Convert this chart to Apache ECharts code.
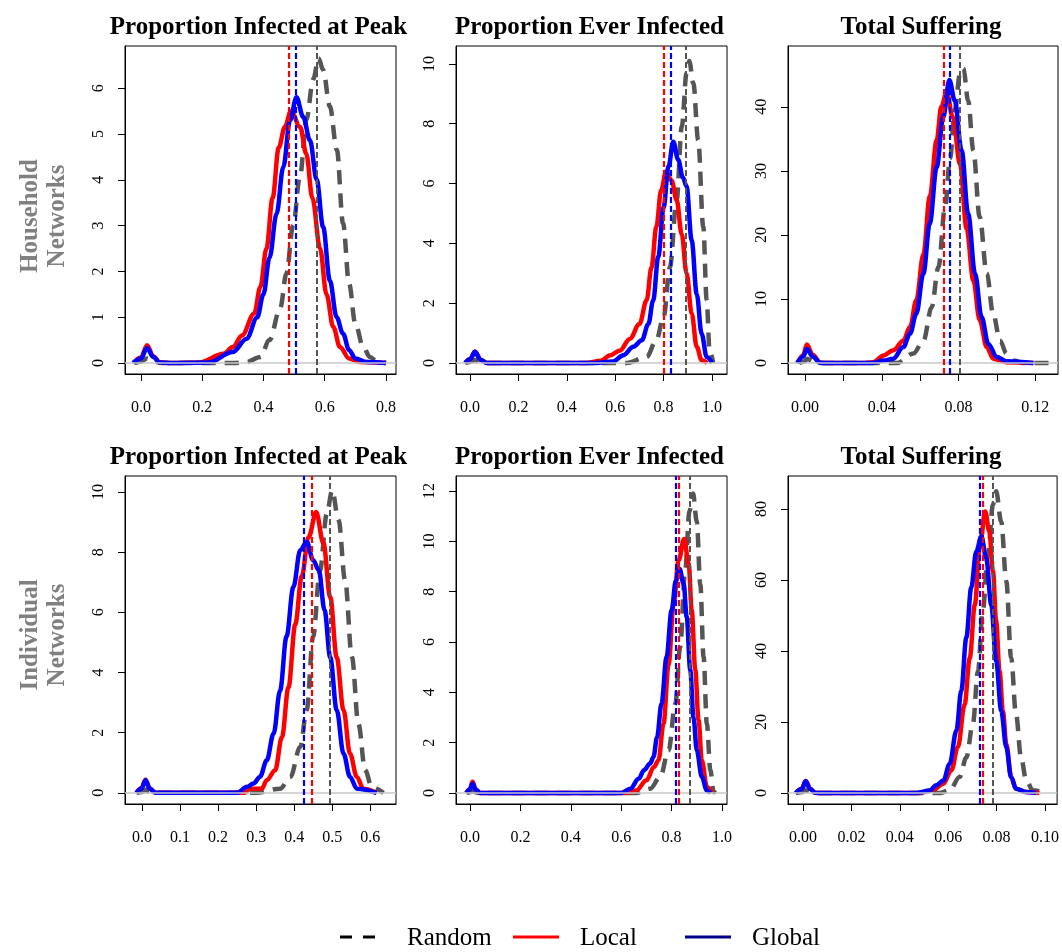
<!DOCTYPE html>
<html>
<head>
<meta charset="utf-8">
<script src="https://cdn.jsdelivr.net/npm/echarts@6/dist/echarts.min.js"></script>
<style>
html,body{margin:0;padding:0;background:#fff;}
#chart{width:1062px;height:952px;}
</style>
</head>
<body>
<div id="chart"></div>
<script>
// ---------- Titles / labels ----------
const panelTitles = ["Proportion Infected at Peak", "Proportion Ever Infected", "Total Suffering",
                     "Proportion Infected at Peak", "Proportion Ever Infected", "Total Suffering"];
const rowLabels = ["Household\nNetworks", "Individual\nNetworks"];
const legendNames = ["Random", "Local", "Global"];

// ---------- Axis ticks ----------
const xTicks1 = [0, 0.2, 0.4, 0.6, 0.8];
const xTicks2 = [0, 0.2, 0.4, 0.6, 0.8, 1.0];
const xTicks3 = [0, 0.02, 0.04, 0.06, 0.08, 0.10, 0.12];
const xLabels3 = [0, 0.04, 0.08, 0.12];
const xTicks4 = [0, 0.1, 0.2, 0.3, 0.4, 0.5, 0.6];
const xTicks5 = [0, 0.2, 0.4, 0.6, 0.8, 1.0];
const xTicks6 = [0, 0.02, 0.04, 0.06, 0.08, 0.10];
const yTicks1 = [0, 1, 2, 3, 4, 5, 6];
const yTicks2 = [0, 2, 4, 6, 8, 10];
const yTicks3 = [0, 10, 20, 30, 40];
const yTicks4 = [0, 2, 4, 6, 8, 10];
const yTicks5 = [0, 2, 4, 6, 8, 10, 12];
const yTicks6 = [0, 20, 40, 60, 80];

// ---------- Density curves (x, density) ----------
// Panel 1: Household, Proportion Infected at Peak
const hhPeakRandom = [[-0.02,0],[0.0,0.03],[0.02,0.1],[0.04,0.03],[0.07,0],[0.3,0],[0.345,0.02],[0.39,0.13],[0.42,0.5],[0.455,1.2],[0.475,1.95],[0.497,3.0],[0.52,4.1],[0.54,5.3],[0.563,6.2],[0.58,6.65],[0.595,6.4],[0.617,5.6],[0.64,4.65],[0.66,3.05],[0.68,1.73],[0.70,0.86],[0.726,0.35],[0.748,0.13],[0.77,0.04],[0.80,0]];
const hhPeakLocal = [[-0.025,0],[0.0,0.12],[0.02,0.39],[0.04,0.15],[0.062,0.01],[0.1,0],[0.19,0.01],[0.27,0.2],[0.30,0.35],[0.33,0.6],[0.37,1.08],[0.39,1.66],[0.41,2.5],[0.43,3.6],[0.45,4.7],[0.47,5.15],[0.49,5.5],[0.52,5.15],[0.54,4.57],[0.56,3.6],[0.585,2.5],[0.606,1.5],[0.628,0.79],[0.65,0.35],[0.68,0.1],[0.715,0.02],[0.80,0]];
const hhPeakGlobal = [[-0.025,0],[0.0,0.1],[0.02,0.33],[0.04,0.13],[0.062,0.01],[0.1,0],[0.22,0.01],[0.30,0.24],[0.345,0.53],[0.38,1.0],[0.40,1.5],[0.42,2.3],[0.443,3.26],[0.465,4.28],[0.487,5.3],[0.508,5.8],[0.53,5.37],[0.552,4.86],[0.574,4.0],[0.595,2.97],[0.617,1.8],[0.639,1.0],[0.66,0.64],[0.68,0.28],[0.70,0.1],[0.737,0.02],[0.80,0]];
const hhPeakMeans = [0.575, 0.482, 0.504];

// Panel 2: Household, Proportion Ever Infected
const hhEverRandom = [[-0.02,0],[0.0,0.03],[0.02,0.1],[0.04,0.03],[0.07,0],[0.647,0],[0.73,0.2],[0.77,0.76],[0.80,1.54],[0.826,3.2],[0.854,5.45],[0.875,7.9],[0.895,9.7],[0.906,10.1],[0.923,9.35],[0.943,7.45],[0.964,4.55],[0.978,2.1],[0.99,0.42],[1.005,0]];
const hhEverLocal = [[-0.02,0],[0.0,0.12],[0.02,0.37],[0.045,0.1],[0.07,0],[0.48,0],[0.54,0.07],[0.58,0.26],[0.62,0.42],[0.66,0.8],[0.70,1.3],[0.73,2.1],[0.75,3.2],[0.77,4.55],[0.79,5.78],[0.81,6.4],[0.833,6.1],[0.854,5.45],[0.875,4.3],[0.895,3.0],[0.916,1.65],[0.937,0.54],[0.957,0.09],[0.98,0]];
const hhEverGlobal = [[-0.02,0],[0.0,0.12],[0.02,0.37],[0.045,0.1],[0.07,0],[0.52,0],[0.59,0.05],[0.634,0.26],[0.675,0.54],[0.71,0.76],[0.737,1.3],[0.757,2.1],[0.778,3.55],[0.80,5.2],[0.82,6.56],[0.84,7.4],[0.86,6.8],[0.88,6.2],[0.895,5.9],[0.916,4.1],[0.937,2.3],[0.957,0.98],[0.978,0.2],[1.0,0]];
const hhEverMeans = [0.891, 0.799, 0.83];

// Panel 3: Household, Total Suffering
const hhSuffRandom = [[-0.003,0],[0.0,0.3],[0.001,0.7],[0.004,0.3],[0.008,0],[0.0478,0],[0.0565,1.5],[0.0617,3.5],[0.066,8.75],[0.0695,15],[0.073,24.4],[0.0756,32],[0.078,39.5],[0.0808,45.2],[0.0825,46],[0.085,41],[0.0877,33.2],[0.091,22.8],[0.0947,14],[0.098,7.7],[0.1016,3.5],[0.105,1.5],[0.1086,0.4],[0.114,0],[0.127,0]];
const hhSuffLocal = [[-0.004,0],[-0.001,1.2],[0.001,2.9],[0.004,1.3],[0.008,0.05],[0.012,0],[0.03,0],[0.0356,0.15],[0.041,1.2],[0.046,2.0],[0.0512,3.5],[0.0547,5.6],[0.058,9.8],[0.0617,17],[0.065,26],[0.0686,34.8],[0.071,40],[0.0738,42.3],[0.077,38.4],[0.0808,31],[0.0842,21],[0.0877,12.9],[0.091,6.7],[0.0947,2.5],[0.098,0.7],[0.105,0.15],[0.119,0]];
const hhSuffGlobal = [[-0.004,0],[-0.001,1.0],[0.001,2.2],[0.004,1.0],[0.008,0.05],[0.012,0],[0.035,0],[0.041,0.4],[0.046,0.7],[0.0512,2.5],[0.0547,4.6],[0.058,7.7],[0.0617,14],[0.065,21.8],[0.0686,30.6],[0.072,38.4],[0.0752,44.2],[0.078,41],[0.0816,33.2],[0.085,23.3],[0.0886,14],[0.092,7.2],[0.0955,3.0],[0.0999,0.94],[0.105,0.3],[0.119,0]];
const hhSuffMeans = [0.0808, 0.0724, 0.0752];

// Panel 4: Individual, Proportion Infected at Peak
const inPeakRandom = [[-0.015,0],[0.0,0.03],[0.009,0.1],[0.02,0.03],[0.035,0],[0.30,0],[0.363,0.14],[0.39,0.53],[0.416,1.53],[0.433,2.75],[0.45,5.2],[0.468,7.4],[0.486,9.28],[0.50,10.05],[0.517,9.06],[0.534,7.07],[0.552,4.52],[0.569,2.3],[0.587,0.75],[0.604,0.2],[0.635,0]];
const inPeakLocal = [[-0.015,0],[-0.002,0.15],[0.009,0.44],[0.02,0.15],[0.035,0],[0.267,0],[0.285,0.14],[0.315,0.14],[0.328,0.42],[0.35,0.75],[0.368,1.86],[0.385,3.5],[0.403,5.6],[0.42,7.2],[0.438,8.5],[0.458,9.33],[0.477,8.3],[0.495,6.5],[0.512,4.5],[0.53,2.75],[0.547,1.3],[0.565,0.53],[0.582,0.14],[0.617,0]];
const inPeakGlobal = [[-0.015,0],[-0.002,0.14],[0.009,0.42],[0.02,0.14],[0.035,0],[0.25,0],[0.276,0.2],[0.293,0.31],[0.31,0.53],[0.328,1.08],[0.346,1.97],[0.363,3.4],[0.38,5.2],[0.398,6.84],[0.416,8.06],[0.433,8.34],[0.45,7.73],[0.465,7.4],[0.48,6.07],[0.495,4.5],[0.512,2.75],[0.53,1.3],[0.547,0.53],[0.565,0.14],[0.617,0]];
const inPeakMeans = [0.494, 0.4475, 0.426];

// Panel 5: Individual, Proportion Ever Infected
const inEverRandom = [[-0.015,0],[0.0,0.03],[0.01,0.1],[0.02,0.03],[0.035,0],[0.66,0],[0.715,0.17],[0.755,0.64],[0.788,1.7],[0.815,3.55],[0.834,5.8],[0.854,8.85],[0.871,11.2],[0.885,11.9],[0.90,10.8],[0.914,8.3],[0.927,5.4],[0.94,2.75],[0.954,0.9],[0.967,0.04],[0.975,0]];
const inEverLocal = [[-0.015,0],[-0.002,0.15],[0.01,0.44],[0.022,0.15],[0.04,0],[0.62,0],[0.66,0.1],[0.70,0.5],[0.73,1.03],[0.748,1.3],[0.768,2.75],[0.788,5.1],[0.808,7.5],[0.828,9.25],[0.85,10.1],[0.868,9.1],[0.88,7.26],[0.894,4.9],[0.907,2.9],[0.92,1.3],[0.94,0.24],[0.96,0]];
const inEverGlobal = [[-0.015,0],[-0.002,0.13],[0.01,0.37],[0.022,0.13],[0.04,0],[0.60,0],[0.636,0.17],[0.67,0.57],[0.69,0.9],[0.715,1.17],[0.728,1.43],[0.742,2.2],[0.76,3.55],[0.78,5.4],[0.80,7.26],[0.817,8.45],[0.832,8.9],[0.848,8.3],[0.86,7.0],[0.874,4.9],[0.887,3.0],[0.90,1.7],[0.92,0.64],[0.94,0.1],[0.954,0]];
const inEverMeans = [0.871, 0.828, 0.815];

// Panel 6: Individual, Total Suffering
const inSuffRandom = [[-0.003,0],[0.0,0.3],[0.0011,0.8],[0.003,0.3],[0.006,0],[0.0565,0],[0.0606,0.75],[0.0647,4.5],[0.0675,10],[0.0702,19.5],[0.0723,34.4],[0.0743,51.3],[0.0764,67.2],[0.0785,81.2],[0.0798,85],[0.0819,76.5],[0.084,59.7],[0.086,38.2],[0.088,22.3],[0.0901,10.1],[0.0922,3.6],[0.095,0.75],[0.1004,0]];
const inSuffLocal = [[-0.003,0],[-0.0005,1.2],[0.0011,3.4],[0.003,1.2],[0.005,0.05],[0.008,0],[0.048,0],[0.054,0.94],[0.058,2.6],[0.0613,6.4],[0.064,12.9],[0.0668,25],[0.0689,38],[0.071,53],[0.073,69],[0.0753,79.3],[0.077,73.7],[0.0785,62.5],[0.0798,48.5],[0.0812,34.4],[0.0826,23.2],[0.084,13.8],[0.086,4.5],[0.088,1.2],[0.092,0.3],[0.0977,0]];
const inSuffGlobal = [[-0.003,0],[-0.0005,1.1],[0.0011,3.3],[0.003,1.1],[0.005,0.05],[0.008,0],[0.047,0],[0.0524,0.7],[0.055,2.15],[0.058,3.5],[0.0606,8.2],[0.0634,17.6],[0.0654,28.8],[0.0675,43.8],[0.0695,57.8],[0.0716,68],[0.0737,72.3],[0.0757,66.2],[0.0778,53],[0.0798,37.2],[0.0819,23.2],[0.084,12.9],[0.086,4.5],[0.088,1.2],[0.092,0.3],[0.0963,0]];
const inSuffMeans = [0.0785, 0.0741, 0.073];

// ---------- Layout ----------
const FONT = "'Liberation Serif', 'DejaVu Serif', serif";
const colRandom = '#555555', colLocal = '#ff0000', colGlobal = '#0000ff';

const panels = [
  {left:125, top:46, w:271, h:328, xr:[-0.052,0.833], yr:[-0.24,6.92], xt:xTicks1, xl:xTicks1, dx:1, yt:yTicks1,
   curves:[hhPeakRandom, hhPeakLocal, hhPeakGlobal], means:hhPeakMeans},
  {left:456, top:46, w:271, h:328, xr:[-0.058,1.062], yr:[-0.37,10.6], xt:xTicks2, xl:xTicks2, dx:1, yt:yTicks2,
   curves:[hhEverRandom, hhEverLocal, hhEverGlobal], means:hhEverMeans},
  {left:788, top:46, w:270, h:328, xr:[-0.00885,0.1318], yr:[-1.7,49.5], xt:xTicks3, xl:xLabels3, dx:2, yt:yTicks3,
   curves:[hhSuffRandom, hhSuffLocal, hhSuffGlobal], means:hhSuffMeans},
  {left:125, top:476, w:271, h:328, xr:[-0.045,0.668], yr:[-0.37,10.53], xt:xTicks4, xl:xTicks4, dx:1, yt:yTicks4,
   curves:[inPeakRandom, inPeakLocal, inPeakGlobal], means:inPeakMeans},
  {left:456, top:476, w:271, h:328, xr:[-0.056,1.02], yr:[-0.44,12.6], xt:xTicks5, xl:xTicks5, dx:1, yt:yTicks5,
   curves:[inEverRandom, inEverLocal, inEverGlobal], means:inEverMeans},
  {left:788, top:476, w:270, h:328, xr:[-0.0062,0.105], yr:[-3.1,89.3], xt:xTicks6, xl:xTicks6, dx:2, yt:yTicks6,
   curves:[inSuffRandom, inSuffLocal, inSuffGlobal], means:inSuffMeans}
];

const grid = [], xAxis = [], yAxis = [], series = [], title = [];
panels.forEach((p, i) => {
  grid.push({left:p.left, top:p.top, width:p.w, height:p.h, show:true, borderColor:'#000', borderWidth:1, backgroundColor:'transparent'});
  xAxis.push({
    type:'value', gridIndex:i, min:p.xr[0], max:p.xr[1],
    axisLine:{show:true, onZero:false, lineStyle:{color:'#000', width:1}},
    axisTick:{show:true, inside:false, length:7, customValues:p.xt, lineStyle:{color:'#000', width:1}},
    axisLabel:{show:true, customValues:p.xl, margin:26, color:'#000', fontFamily:FONT, fontSize:16,
               formatter:(v)=>Number(v).toFixed(p.dx)},
    splitLine:{show:false}
  });
  yAxis.push({
    type:'value', gridIndex:i, min:p.yr[0], max:p.yr[1],
    axisLine:{show:true, onZero:false, lineStyle:{color:'#000', width:1}},
    axisTick:{show:true, inside:false, length:7, customValues:p.yt, lineStyle:{color:'#000', width:1}},
    axisLabel:{show:true, customValues:p.yt, rotate:90, margin:18, color:'#000', fontFamily:FONT, fontSize:16,
               formatter:(v)=>String(Math.round(v))},
    splitLine:{show:false}
  });
  title.push({text:panelTitles[i], left:p.left + p.w/2 - 2, top:p.top - 31, textAlign:'center', padding:0,
    textStyle:{fontFamily:FONT, fontWeight:'bold', fontSize:25, color:'#000'}});
  // zero reference line
  series.push({type:'line', xAxisIndex:i, yAxisIndex:i, data:[], silent:true, z:1,
    markLine:{silent:true, symbol:'none', precision:6, label:{show:false}, animation:false,
      lineStyle:{color:'#c8c8c8', width:1.5, type:'solid'}, data:[{yAxis:0}]}});
  const cols = [colRandom, colLocal, colGlobal];
  p.curves.forEach((c, k) => {
    series.push({
      name:legendNames[k], type:'line', xAxisIndex:i, yAxisIndex:i, data:c,
      showSymbol:false, smooth:0.35, smoothMonotone:'x', animation:false, silent:true, z:2+k,
      lineStyle:{color:cols[k], width:4.5, type:k===0?[14,9]:'solid', cap:'butt'}
    });
  });
  series.push({type:'line', xAxisIndex:i, yAxisIndex:i, data:[], silent:true, z:10,
    markLine:{silent:true, symbol:'none', precision:6, label:{show:false}, animation:false,
      data:[
        {xAxis:p.means[0], lineStyle:{color:colRandom, width:2, type:[6,3]}},
        {xAxis:p.means[1], lineStyle:{color:colLocal, width:2.2, type:[6,3]}},
        {xAxis:p.means[2], lineStyle:{color:colGlobal, width:2.2, type:[6,3]}}
      ]}});
});

// Row labels and legend as graphics
const graphic = [
  {type:'text', x:44, y:216, rotation:Math.PI/2, style:{text:rowLabels[0], fill:'#808080', font:"bold 25px " + FONT, align:'center', verticalAlign:'middle', lineHeight:27}},
  {type:'text', x:44, y:635, rotation:Math.PI/2, style:{text:rowLabels[1], fill:'#808080', font:"bold 25px " + FONT, align:'center', verticalAlign:'middle', lineHeight:27}},
  // legend
  {type:'line', shape:{x1:340, y1:937, x2:376, y2:937}, style:{stroke:'#000', lineWidth:3, lineDash:[12,11]}},
  {type:'text', x:407, y:938, style:{text:legendNames[0], fill:'#000', font:"25px " + FONT, align:'left', verticalAlign:'middle'}},
  {type:'line', shape:{x1:513, y1:937, x2:559, y2:937}, style:{stroke:'#ff0000', lineWidth:3}},
  {type:'text', x:580, y:938, style:{text:legendNames[1], fill:'#000', font:"25px " + FONT, align:'left', verticalAlign:'middle'}},
  {type:'line', shape:{x1:685, y1:937, x2:731, y2:937}, style:{stroke:'#00008b', lineWidth:3}},
  {type:'text', x:752, y:938, style:{text:legendNames[2], fill:'#000', font:"25px " + FONT, align:'left', verticalAlign:'middle'}}
];

const chart = echarts.init(document.getElementById('chart'), null, {renderer:'canvas'});
chart.setOption({animation:false, backgroundColor:'#fff', title, grid, xAxis, yAxis, series, graphic});
</script>
</body>
</html>
